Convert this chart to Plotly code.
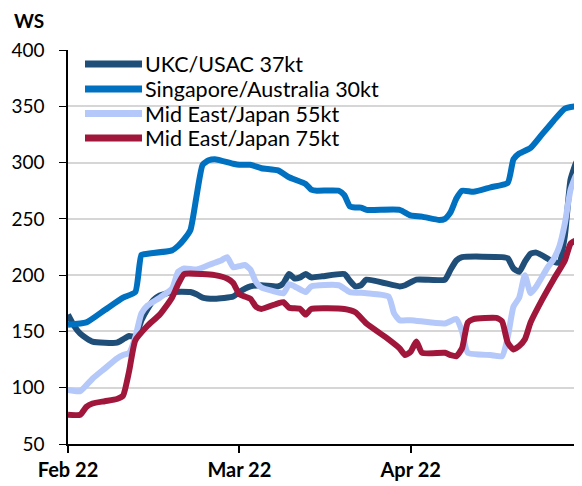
import calendar
import plotly.graph_objects as go

# ---------------- data ----------------
ukc_dates = ["2022-02-01","2022-02-02","2022-02-03","2022-02-04","2022-02-05","2022-02-07","2022-02-09",
             "2022-02-10","2022-02-11","2022-02-12","2022-02-13","2022-02-14","2022-02-15","2022-02-16",
             "2022-02-18","2022-02-21","2022-02-22","2022-02-23","2022-02-25","2022-02-28","2022-03-01",
             "2022-03-03","2022-03-05","2022-03-08","2022-03-09","2022-03-10","2022-03-11","2022-03-12",
             "2022-03-13","2022-03-14","2022-03-16","2022-03-20","2022-03-21","2022-03-22","2022-03-23",
             "2022-03-24","2022-03-30","2022-03-31","2022-04-02","2022-04-07","2022-04-08","2022-04-09",
             "2022-04-10","2022-04-17","2022-04-18","2022-04-19","2022-04-20","2022-04-21","2022-04-22",
             "2022-04-23","2022-04-26","2022-04-27","2022-04-28","2022-04-29","2022-04-30","2022-05-01"]
ukc_vals = [165,155,148,144,141,140,140,143,146,145,160,170,178,182,185,185,183,180,179,181,185,
            190,191,190,193,201,197,198,201,198,199,201,195,190,191,196,190,191,196,196,205,213,
            216,216,215,206,203,212,219,220,212,211,235,285,300,306]

sg_dates = ["2022-02-01","2022-02-04","2022-02-07","2022-02-10","2022-02-12","2022-02-13","2022-02-14",
            "2022-02-18","2022-02-19","2022-02-20","2022-02-21","2022-02-22","2022-02-23","2022-02-24",
            "2022-02-25","2022-02-28","2022-03-01","2022-03-03","2022-03-05","2022-03-08","2022-03-10",
            "2022-03-11","2022-03-13","2022-03-14","2022-03-15","2022-03-19","2022-03-20","2022-03-21",
            "2022-03-22","2022-03-23","2022-03-24","2022-03-30","2022-04-01","2022-04-03","2022-04-06",
            "2022-04-07","2022-04-08","2022-04-09","2022-04-10","2022-04-12","2022-04-15","2022-04-18",
            "2022-04-19","2022-04-20","2022-04-22","2022-04-24","2022-04-26","2022-04-28","2022-04-30",
            "2022-05-01"]
sg_vals = [156,158,169,180,185,218,219,222,226,232,240,270,298,302,303,299,298,298,295,293,287,
           285,281,276,275,275,271,261,260,260,258,258,253,252,249,250,256,268,275,274,278,282,
           303,308,313,325,337,348,350,349]

me55_dates = ["2022-02-01","2022-02-03","2022-02-05","2022-02-07","2022-02-09","2022-02-10","2022-02-11",
              "2022-02-12","2022-02-13","2022-02-14","2022-02-16","2022-02-18","2022-02-19","2022-02-20",
              "2022-02-22","2022-02-24","2022-02-25","2022-02-26","2022-02-27","2022-02-28","2022-03-01",
              "2022-03-02","2022-03-03","2022-03-04","2022-03-05","2022-03-07","2022-03-09","2022-03-10",
              "2022-03-11","2022-03-13","2022-03-14","2022-03-19","2022-03-21","2022-03-24","2022-03-28",
              "2022-03-29","2022-03-30","2022-04-01","2022-04-07","2022-04-09","2022-04-10","2022-04-11",
              "2022-04-15","2022-04-17","2022-04-18","2022-04-19","2022-04-20","2022-04-21","2022-04-22",
              "2022-04-23","2022-04-25","2022-04-26","2022-04-27","2022-04-28","2022-04-29","2022-04-30",
              "2022-05-01"]
me55_vals = [98,97,108,117,126,129,131,145,166,173,180,188,203,206,205,209,211,213,216,207,208,
             209,205,194,189,186,184,192,190,185,190,191,185,184,181,166,160,160,157,161,150,131,
             129,128,145,172,180,200,184,190,207,214,225,246,276,289,294]

me75_dates = ["2022-02-01","2022-02-03","2022-02-04","2022-02-05","2022-02-07","2022-02-09","2022-02-10",
              "2022-02-11","2022-02-12","2022-02-14","2022-02-16","2022-02-18","2022-02-19","2022-02-20",
              "2022-02-23","2022-02-25","2022-02-27","2022-02-28","2022-03-01","2022-03-02","2022-03-03",
              "2022-03-04","2022-03-05","2022-03-08","2022-03-09","2022-03-10","2022-03-12","2022-03-13",
              "2022-03-14","2022-03-20","2022-03-22","2022-03-24","2022-03-28","2022-03-30","2022-03-31",
              "2022-04-01","2022-04-02","2022-04-03","2022-04-07","2022-04-08","2022-04-09","2022-04-10",
              "2022-04-11","2022-04-12","2022-04-16","2022-04-17","2022-04-18","2022-04-19","2022-04-20",
              "2022-04-21","2022-04-22","2022-04-24","2022-04-26","2022-04-28","2022-04-29","2022-04-30",
              "2022-05-01"]
me75_vals = [76,76,83,86,88,90,93,115,142,155,165,180,192,201,201,200,197,193,183,181,179,172,170,
             175,176,171,170,165,170,170,167,157,143,135,129,132,141,131,131,129,128,135,158,161,
             162,159,140,134,137,143,158,178,196,213,228,231,229]

series_names = ["UKC/USAC 37kt", "Singapore/Australia 30kt", "Mid East/Japan 55kt", "Mid East/Japan 75kt"]
series_colors = ["#1F4E79", "#0070C0", "#B4C8FA", "#A0173B"]

month_ticks = [0, 1, 2, 3]
month_labels = ["Feb 22", "Mar 22", "Apr 22", ""]
y_ticks = [50, 100, 150, 200, 250, 300, 350, 400]

# ---------------- layout constants ----------------
# the page body has an 8px margin, so the figure is drawn offset by 8px
OFF = 8
W, H = 582 - OFF, 486 - OFF
# plot area in page pixels: left 68, top 50, right 582, bottom 444
L, T = 68 - OFF, 50 - OFF
R = W - (582 - OFF)
B = H - (444 - OFF)
PW, PH = W - L - R, H - T - B


def px_x(p):
    """page pixel x -> paper coordinate"""
    return (p - OFF - L) / PW


def px_y(p):
    """page pixel y -> paper coordinate"""
    return (H - B - (p - OFF)) / PH


def month_pos(d):
    y, m, dd = (int(p) for p in d.split("-"))
    return (m - 2) + (dd - 1) / calendar.monthrange(y, m)[1]


fig = go.Figure()
for name, color, dates, vals in zip(series_names, series_colors,
                                    [ukc_dates, sg_dates, me55_dates, me75_dates],
                                    [ukc_vals, sg_vals, me55_vals, me75_vals]):
    fig.add_trace(go.Scatter(
        x=[month_pos(d) for d in dates], y=vals, name=name, mode="lines",
        line=dict(color=color, width=6, shape="spline", smoothing=0.5),
        showlegend=False,
    ))

# custom legend (swatch line + label) to match the reference spacing
legend_rows_px = [64, 89, 113.5, 138]
shapes = []
annotations = []
for name, color, ry in zip(series_names, series_colors, legend_rows_px):
    shapes.append(dict(type="line", xref="paper", yref="paper",
                       x0=px_x(85), x1=px_x(142), y0=px_y(ry), y1=px_y(ry),
                       line=dict(color=color, width=7)))
    annotations.append(dict(text=name, xref="paper", yref="paper", x=px_x(143), y=px_y(ry),
                            xanchor="left", yanchor="middle", showarrow=False,
                            font=dict(family="Lato", size=21.5, color="#000000")))

annotations.append(dict(text="<b>WS</b>", xref="paper", yref="paper", x=px_x(13), y=px_y(20),
                        xanchor="left", yanchor="middle", showarrow=False, borderpad=0,
                        font=dict(family="Lato", size=19, color="#000000")))

fig.update_layout(
    width=W, height=H,
    margin=dict(l=L, r=R, t=T, b=B, autoexpand=False),
    paper_bgcolor="white", plot_bgcolor="white",
    font=dict(family="Lato", size=17, color="#000000"),
    showlegend=False,
    xaxis=dict(range=[0, 3], tickvals=month_ticks, ticktext=month_labels,
               showgrid=False, zeroline=False, showline=True, linecolor="#000000",
               linewidth=1.5, ticks="outside", ticklen=7, tickwidth=1.5, tickcolor="#000000",
               tickfont=dict(family="Lato", size=20, color="#000000", weight="bold")),
    yaxis=dict(range=[50, 400], tickvals=y_ticks, showgrid=True, gridcolor="#D6D6D6",
               gridwidth=1.5, zeroline=False, showline=True, linecolor="#000000", linewidth=1.5,
               ticks="outside", ticklen=7, tickwidth=1.2, tickcolor="#000000",
               ticklabelstandoff=11,
               tickfont=dict(family="Lato", size=19, color="#000000")),
    shapes=shapes,
    annotations=annotations,
)

fig.write_html("out.html")
